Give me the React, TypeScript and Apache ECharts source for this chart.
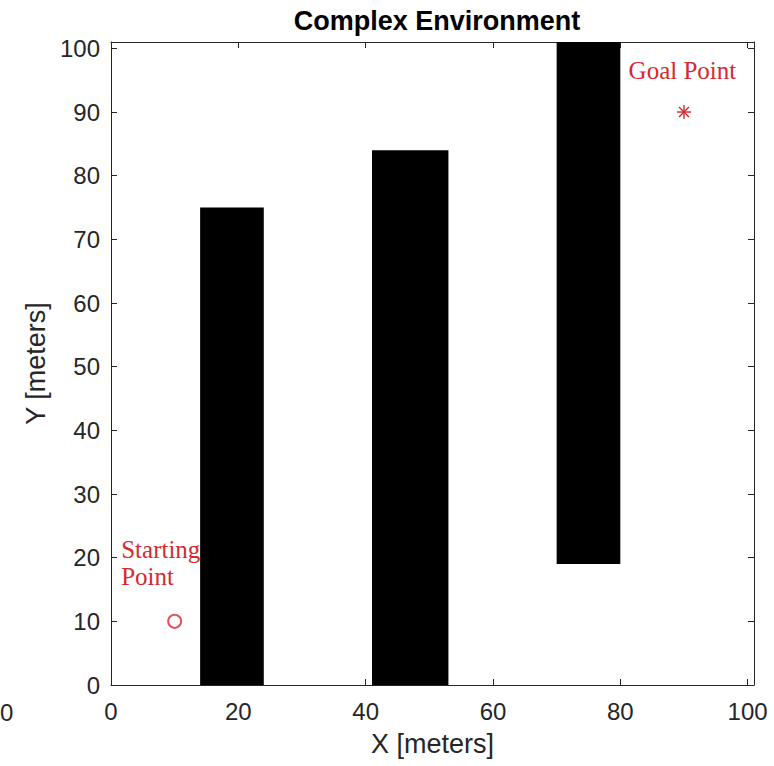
import React, { useEffect, useRef } from "react";
import * as echarts from "echarts";

// Axis settings
const axisMin = 0;
const axisMax = 101;
const xInterval = 20;
const yInterval = 10;

// Obstacles (meters)
const obstacleLeft = [14, 41, 70];
const obstacleRight = [24, 53, 80];
const obstacleBottom = [0, 0, 19];
const obstacleTop = [75, 84, 101];

// Points
const startPoint = [10, 10];
const goalPoint = [90, 90];

// Annotation texts and anchors (data coords)
const annotationText = ["Starting\nPoint", "Goal Point"];
const annotationX = [1.6, 81.3];
const annotationY = [23.4, 98.6];

const RED = "#d42a2f";
const AXIS = "#262626";
const SANS = "'Liberation Sans', Arial, sans-serif";
const SERIF = "'Liberation Serif', 'Times New Roman', serif";

export default function App() {
  const ref = useRef<HTMLDivElement>(null);
  useEffect(() => {
    if (!ref.current) return;
    const chart = echarts.init(ref.current, null, { renderer: "svg" });
    const labelFmt = (step: number) => (v: number) =>
      Math.abs(v % step) < 1e-9 ? String(v) : "";
    const baseAxis = {
      type: "value" as const,
      min: axisMin,
      max: axisMax,
      splitLine: { show: false },
      axisLine: { show: true, onZero: false, lineStyle: { color: AXIS, width: 1 } },
      axisTick: { show: true, inside: true, length: 6, lineStyle: { color: AXIS } },
    };
    chart.setOption({
      animation: false,
      backgroundColor: "#fff",
      title: {
        text: "Complex Environment",
        left: 432,
        top: 2,
        textAlign: "center",
        textStyle: { fontFamily: SANS, fontWeight: "bold", fontSize: 27, color: "#000" },
      },
      grid: { left: 111, top: 42, width: 643, height: 643, containLabel: false },
      xAxis: [
        {
          ...baseAxis,
          position: "bottom",
          interval: xInterval,
          name: "X [meters]",
          nameLocation: "middle",
          nameGap: 45,
          nameTextStyle: { fontFamily: SANS, fontSize: 27, color: AXIS },
          axisLabel: { fontFamily: SANS, fontSize: 24, color: AXIS, margin: 14, formatter: labelFmt(xInterval) },
        },
        {
          ...baseAxis,
          position: "top",
          interval: xInterval,
          axisLabel: { show: false },
        },
      ],
      yAxis: [
        {
          ...baseAxis,
          position: "left",
          interval: yInterval,
          name: "Y [meters]",
          nameLocation: "middle",
          nameGap: 62,
          nameRotate: 90,
          nameTextStyle: { fontFamily: SANS, fontSize: 27, color: AXIS },
          axisLabel: { fontFamily: SANS, fontSize: 24, color: AXIS, margin: 11, formatter: labelFmt(yInterval) },
        },
        {
          ...baseAxis,
          position: "right",
          interval: yInterval,
          axisLabel: { show: false },
        },
      ],
      graphic: [
        {
          type: "text",
          left: 0,
          top: 700,
          style: { text: "0", fontFamily: SANS, fontSize: 24, fill: AXIS },
        },
      ],
      series: [
        {
          type: "custom",
          clip: true,
          encode: { x: [0, 1], y: [2, 3] },
          data: obstacleLeft.map((l, i) => [l, obstacleRight[i], obstacleBottom[i], obstacleTop[i]]),
          renderItem: (params: any, api: any) => {
            const p0 = api.coord([api.value(0), api.value(2)]);
            const p1 = api.coord([api.value(1), api.value(3)]);
            return {
              type: "rect",
              shape: { x: p0[0], y: p1[1], width: p1[0] - p0[0], height: p0[1] - p1[1] },
              style: { fill: "#000" },
            };
          },
        },
        {
          type: "scatter",
          symbol: "emptyCircle",
          symbolSize: 13,
          itemStyle: { color: RED, borderColor: RED, borderWidth: 1.3 },
          data: [startPoint],
        },
        {
          type: "custom",
          data: [goalPoint],
          renderItem: (params: any, api: any) => {
            const c = api.coord([api.value(0), api.value(1)]);
            const r = 7;
            const d = r * 0.7071;
            const st = { stroke: RED, lineWidth: 1.4 };
            return {
              type: "group",
              children: [
                { type: "line", shape: { x1: c[0] - r, y1: c[1], x2: c[0] + r, y2: c[1] }, style: st },
                { type: "line", shape: { x1: c[0], y1: c[1] - r, x2: c[0], y2: c[1] + r }, style: st },
                { type: "line", shape: { x1: c[0] - d, y1: c[1] - d, x2: c[0] + d, y2: c[1] + d }, style: st },
                { type: "line", shape: { x1: c[0] - d, y1: c[1] + d, x2: c[0] + d, y2: c[1] - d }, style: st },
              ],
            };
          },
        },
        {
          type: "custom",
          data: annotationX.map((x, i) => [x, annotationY[i], i]),
          renderItem: (params: any, api: any) => {
            const c = api.coord([api.value(0), api.value(1)]);
            const idx = api.value(2);
            return {
              type: "text",
              x: c[0],
              y: c[1],
              style: {
                text: annotationText[idx],
                fill: RED,
                fontFamily: SERIF,
                fontSize: 25,
                lineHeight: 27,
                align: "left",
                verticalAlign: "top",
              },
            };
          },
        },
      ],
    });
    return () => chart.dispose();
  }, []);
  return (
    <div
      ref={ref}
      style={{ position: "fixed", left: 0, top: 0, width: 774, height: 766 }}
    />
  );
}
